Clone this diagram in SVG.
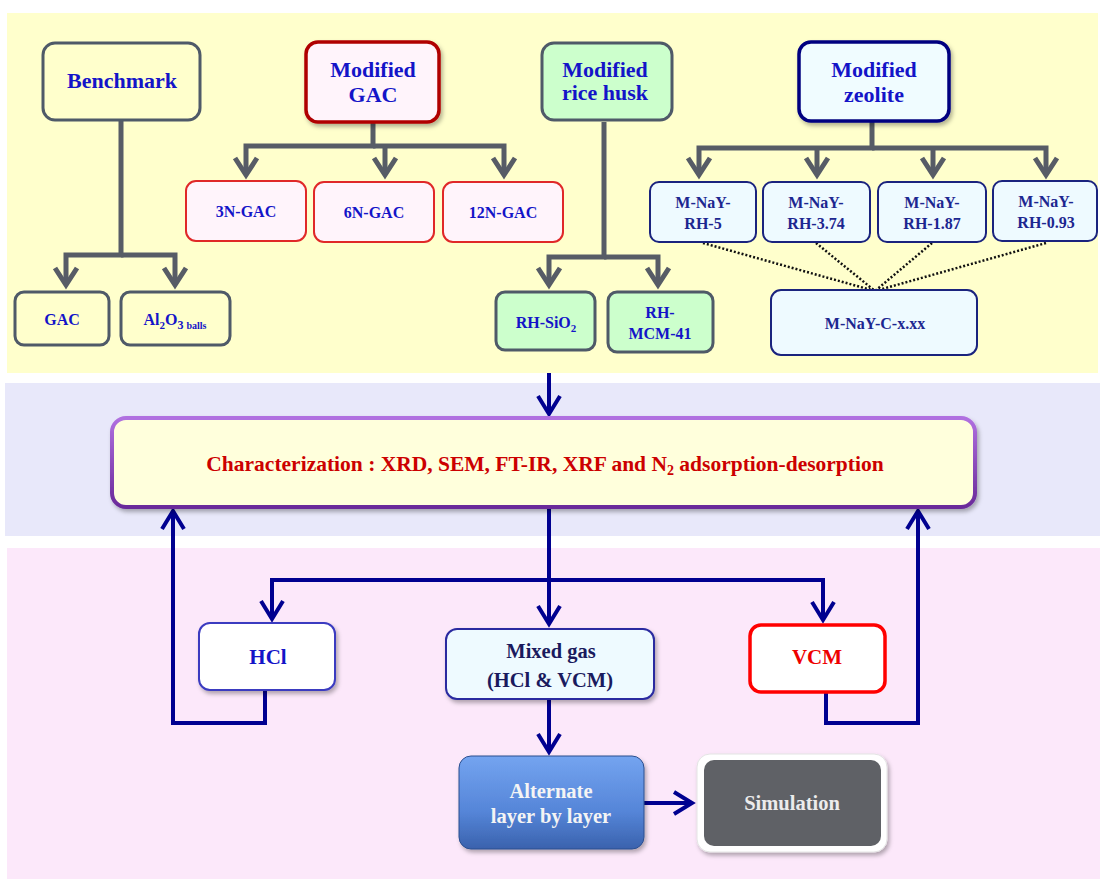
<svg xmlns="http://www.w3.org/2000/svg" width="1100" height="879" viewBox="0 0 1100 879">
<defs>
<style>
text{font-family:"Liberation Serif","Times New Roman",serif;font-weight:bold;text-anchor:middle}
.t22{font-size:22px;fill:#1414c8}
.t16{font-size:16px;fill:#1414c8}
.tn{font-size:16px;fill:#1c2690}
.gray{fill:none;stroke:#575c66;stroke-width:5;marker-end:url(#ag)}
.blue{fill:none;stroke:#000090;stroke-width:4;marker-end:url(#ab)}
.dot{fill:none;stroke:#111;stroke-width:2.5;stroke-dasharray:2 2}
.bench{fill:#ffffcc;stroke:#4f5a68;stroke-width:3}
.green{fill:#ccffcc;stroke:#4f5a68;stroke-width:3}
.gacs{fill:#fff4fb;stroke:#e02828;stroke-width:2}
.nay{fill:#eefaff;stroke:#1a237e;stroke-width:2}
</style>
<marker id="ag" markerUnits="userSpaceOnUse" orient="auto" viewBox="-25 -15 30 30" markerWidth="30" markerHeight="30" refX="0" refY="0">
<path d="M-17,-11 L0,0 L-17,11" fill="none" stroke="#575c66" stroke-width="5"/>
</marker>
<marker id="ab" markerUnits="userSpaceOnUse" orient="auto" viewBox="-25 -15 30 30" markerWidth="30" markerHeight="30" refX="0" refY="0">
<path d="M-18,-11 L0,0 L-18,11" fill="none" stroke="#000090" stroke-width="4"/>
</marker>
<filter id="sh" x="-10%" y="-10%" width="130%" height="140%">
<feDropShadow dx="2" dy="3" stdDeviation="2" flood-color="#000" flood-opacity="0.3"/>
</filter>
<linearGradient id="gAlt" x1="0" y1="0" x2="0" y2="1">
<stop offset="0" stop-color="#74a4f0"/>
<stop offset="0.6" stop-color="#5585d8"/>
<stop offset="1" stop-color="#3a62ad"/>
</linearGradient>
<linearGradient id="gChar" x1="0" y1="0" x2="0" y2="1">
<stop offset="0" stop-color="#b070e0"/>
<stop offset="1" stop-color="#6a2a9a"/>
</linearGradient>
</defs>

<g id="panels">
<rect x="7" y="13" width="1091" height="360" fill="#ffffcc"/>
<rect x="5" y="383" width="1095" height="153" fill="#e8e8fa"/>
<rect x="7" y="548" width="1093" height="331" fill="#fce8fa"/>
</g>

<g id="connectors">
<path class="gray" d="M121 120 V255 H66 V285"/>
<path class="gray" d="M121 255 H175 V285"/>
<path class="gray" d="M373 122 V146 H246 V175"/>
<path class="gray" d="M373 146 H504 V175"/>
<path class="gray" d="M385 146 V175"/>
<path class="gray" d="M604 122 V257 H549 V285"/>
<path class="gray" d="M604 257 H658 V285"/>
<path class="gray" d="M872 121 V148 H699 V175"/>
<path class="gray" d="M872 148 H1046 V175"/>
<path class="gray" d="M817 148 V175"/>
<path class="gray" d="M933 148 V175"/>
<path class="dot" d="M703 243 L875 291 M816 243 L875 291 M932 243 L875 291 M1046 243 L875 291"/>
<path class="blue" d="M549 373 V414"/>
<path class="blue" d="M549 507 V624"/>
<path class="blue" d="M549 580 H272 V619"/>
<path class="blue" d="M549 580 H823 V620"/>
<path class="blue" d="M265 690 V723 H173 V511"/>
<path class="blue" d="M826 692 V723 H918 V511"/>
<path class="blue" d="M549 699 V752"/>
<path class="blue" d="M644 803 H692"/>
</g>

<g id="benchmark">
<rect class="bench" x="43" y="43" width="157" height="77" rx="12"/>
<text class="t22" x="122" y="88">Benchmark</text>
</g>
<g id="gac">
<rect class="bench" x="15" y="292" width="94" height="53" rx="9"/>
<text class="t16" x="62" y="325">GAC</text>
</g>
<g id="al2o3">
<rect class="bench" x="121" y="292" width="109" height="53" rx="9"/>
<text class="t16" x="175" y="325">Al<tspan font-size="11" dy="4">2</tspan><tspan dy="-4">O</tspan><tspan font-size="12" dy="4">3 </tspan><tspan font-size="10">balls</tspan></text>
</g>

<g id="modified-gac">
<rect x="306" y="42" width="133" height="80" rx="12" fill="#fff4fb" stroke="#b00000" stroke-width="3.5" filter="url(#sh)"/>
<text class="t22" x="373" y="77">Modified</text>
<text class="t22" x="373" y="102">GAC</text>
</g>
<g id="n3-gac">
<rect class="gacs" x="186" y="181" width="120" height="60" rx="10"/>
<text class="t16" x="246" y="217">3N-GAC</text>
</g>
<g id="n6-gac">
<rect class="gacs" x="314" y="182" width="120" height="60" rx="10"/>
<text class="t16" x="374" y="218">6N-GAC</text>
</g>
<g id="n12-gac">
<rect class="gacs" x="443" y="182" width="120" height="60" rx="10"/>
<text class="t16" x="503" y="218">12N-GAC</text>
</g>

<g id="modified-rice-husk">
<rect class="green" x="542" y="43" width="130" height="77" rx="12"/>
<text class="t22" x="605" y="77">Modified</text>
<text class="t22" x="605" y="100">rice husk</text>
</g>
<g id="rh-sio2">
<rect class="green" x="496" y="292" width="99" height="58" rx="9"/>
<text class="t16" x="546" y="328">RH-SiO<tspan font-size="11" dy="4">2</tspan></text>
</g>
<g id="rh-mcm41">
<rect class="green" x="608" y="292" width="105" height="60" rx="9"/>
<text class="t16" x="660" y="318">RH-</text>
<text class="t16" x="660" y="339">MCM-41</text>
</g>

<g id="modified-zeolite">
<rect x="799" y="42" width="150" height="79" rx="12" fill="#f0fcff" stroke="#000080" stroke-width="3.5" filter="url(#sh)"/>
<text class="t22" x="874" y="77">Modified</text>
<text class="t22" x="874" y="102">zeolite</text>
</g>
<g id="mnay-rh-5">
<rect class="nay" x="650" y="182" width="106" height="60" rx="9"/>
<text class="tn" x="703" y="208">M-NaY-</text>
<text class="tn" x="703" y="229">RH-5</text>
</g>
<g id="mnay-rh-374">
<rect class="nay" x="763" y="182" width="107" height="60" rx="9"/>
<text class="tn" x="816" y="208">M-NaY-</text>
<text class="tn" x="816" y="229">RH-3.74</text>
</g>
<g id="mnay-rh-187">
<rect class="nay" x="878" y="182" width="108" height="60" rx="9"/>
<text class="tn" x="932" y="208">M-NaY-</text>
<text class="tn" x="932" y="229">RH-1.87</text>
</g>
<g id="mnay-rh-093">
<rect class="nay" x="993" y="181" width="104" height="60" rx="9"/>
<text class="tn" x="1046" y="207">M-NaY-</text>
<text class="tn" x="1046" y="228">RH-0.93</text>
</g>
<g id="mnay-c">
<rect class="nay" x="771" y="290" width="206" height="65" rx="10"/>
<text class="tn" x="875" y="329">M-NaY-C-x.xx</text>
</g>

<g id="characterization">
<rect x="112" y="418" width="863" height="89" rx="14" fill="#ffffdc" stroke="url(#gChar)" stroke-width="4" filter="url(#sh)"/>
<text x="545" y="471" font-size="21.5" fill="#cc0000">Characterization : XRD, SEM, FT-IR, XRF and N<tspan font-size="14" dy="4">2</tspan><tspan dy="-4"> adsorption-desorption</tspan></text>
</g>

<g id="hcl">
<rect x="199" y="623" width="136" height="67" rx="11" fill="#ffffff" stroke="#3a3ac0" stroke-width="2" filter="url(#sh)"/>
<text x="268" y="664" font-size="21" fill="#1414c8">HCl</text>
</g>
<g id="mixed-gas">
<rect x="446" y="629" width="208" height="70" rx="11" fill="#eefaff" stroke="#2a2aa0" stroke-width="2" filter="url(#sh)"/>
<text x="551" y="658" font-size="20.5" fill="#1a1a5e">Mixed gas</text>
<text x="550" y="687" font-size="20.5" fill="#1a1a5e">(HCl &amp; VCM)</text>
</g>
<g id="vcm">
<rect x="750" y="625" width="135" height="67" rx="11" fill="#ffffff" stroke="#ff0000" stroke-width="3.5"/>
<text x="817" y="664" font-size="21" fill="#ee0000">VCM</text>
</g>
<g id="alternate">
<rect x="459" y="756" width="185" height="93" rx="12" fill="url(#gAlt)" stroke="#2c4f8f" stroke-width="1" filter="url(#sh)"/>
<text x="551" y="798" font-size="20.5" fill="#f4f4f4">Alternate</text>
<text x="551" y="823" font-size="20.5" fill="#f4f4f4">layer by layer</text>
</g>
<g id="simulation">
<rect x="697" y="754" width="190" height="98" rx="13" fill="#ffffff" stroke="#e4e4e4" stroke-width="1" filter="url(#sh)"/>
<rect x="704" y="760" width="177" height="86" rx="10" fill="#5f6166"/>
<text x="792" y="810" font-size="20.5" fill="#ececec">Simulation</text>
</g>
</svg>
